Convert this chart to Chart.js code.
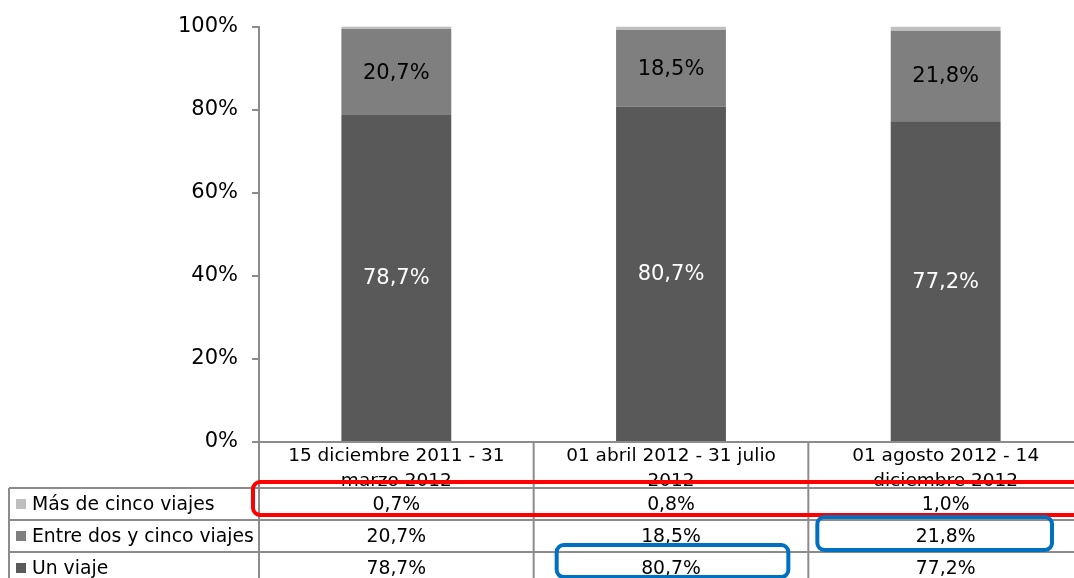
<!DOCTYPE html>
<html>
<head>
<meta charset="utf-8">
<script src="https://cdn.jsdelivr.net/npm/chart.js@4"></script>
<style>
  html, body { margin: 0; padding: 0; background: #fff; overflow: hidden; }
  canvas { display: block; }
</style>
</head>
<body>
<canvas id="myChart" width="1083" height="578"></canvas>
<script>
/* Data */
var periods = [
    ['15 diciembre 2011 - 31', 'marzo 2012'],
    ['01 abril 2012 - 31 julio', '2012'],
    ['01 agosto 2012 - 14', 'diciembre 2012']
];
var seriesNames = ['Un viaje', 'Entre dos y cinco viajes', 'Más de cinco viajes'];
var unViaje = [78.7, 80.7, 77.2];
var entreDosCinco = [20.7, 18.5, 21.8];
var masDeCinco = [0.7, 0.8, 1.0];
var yTicks = [0, 20, 40, 60, 80, 100];

var gray = '#8c8c8c';
var barColors = ['#595959', '#7f7f7f', '#bfbfbf'];
Chart.defaults.font.family = '"DejaVu Sans", Verdana, sans-serif';

function fmt(v) {
    return v.toFixed(1).replace('.', ',') + '%';
}

// marked cells in the table (series index, first / last period) + nudges
var highlights = [
    { series: 2, from: 0, to: 2, color: '#ff0000', l: -6, r: 20, t: -6, b: -5 },
    { series: 0, from: 1, to: 1, color: '#0070c0', l: 23, r: -20, t: -7, b: -7 },
    { series: 1, from: 2, to: 2, color: '#0070c0', l: 9, r: -31, t: -3, b: -2 }
];

var tablePlugin = {
    id: 'dataTable',
    afterDatasetsDraw: function (chart) {
        // value labels inside the two big segments
        var c = chart.ctx;
        c.save();
        c.font = '21px "DejaVu Sans"';
        c.textAlign = 'center';
        c.textBaseline = 'middle';
        [0, 1].forEach(function (i) {
            chart.getDatasetMeta(i).data.forEach(function (bar, j) {
                c.fillStyle = i === 0 ? '#ffffff' : '#000000';
                c.fillText(fmt(chart.data.datasets[i].data[j]), bar.x, (bar.y + bar.base) / 2 + 1);
            });
        });
        c.restore();
    },
    afterDraw: function (chart) {
        var c = chart.ctx, area = chart.chartArea, x = chart.scales.x;
        var n = periods.length, colW = (x.right - x.left) / n;
        var headTop = area.bottom, headH = 46, rowH = 32, tableLeft = 9;
        var rowsTop = headTop + headH;
        var order = [2, 1, 0]; // top row first
        var tableBottom = rowsTop + order.length * rowH;
        var rowTopOf = function (s) { return rowsTop + order.indexOf(s) * rowH; };

        c.save();
        c.strokeStyle = gray;
        c.lineWidth = 2;
        c.beginPath();
        for (var i = 0; i <= n; i++) {
            var vx = x.left + i * colW;
            c.moveTo(vx, headTop);
            c.lineTo(vx, tableBottom);
        }
        c.moveTo(tableLeft, rowsTop);
        c.lineTo(tableLeft, tableBottom);
        for (var k = 0; k <= order.length; k++) {
            c.moveTo(tableLeft, rowsTop + k * rowH);
            c.lineTo(x.right, rowsTop + k * rowH);
        }
        c.stroke();

        c.fillStyle = '#000';
        c.textBaseline = 'middle';
        c.textAlign = 'center';

        // header: period labels, clipped by the first row
        c.font = '18.5px "DejaVu Sans"';
        periods.forEach(function (lines, j) {
            var cx = x.getPixelForValue(j);
            c.save();
            c.beginPath();
            c.rect(x.left + j * colW, headTop, colW, headH - 1);
            c.clip();
            lines.forEach(function (t, li) {
                c.fillText(t, cx, headTop + 14 + li * 25);
            });
            c.restore();
        });

        // rows: legend key, name, values
        c.font = '18.8px "DejaVu Sans"';
        order.forEach(function (s, r) {
            var cy = rowsTop + r * rowH + rowH / 2;
            c.fillStyle = barColors[s];
            c.fillRect(16, cy - 5, 10, 10);
            c.fillStyle = '#000';
            c.textAlign = 'left';
            c.fillText(seriesNames[s], 32, cy + 1);
            c.textAlign = 'center';
            chart.data.datasets[s].data.forEach(function (v, j) {
                c.fillText(fmt(v), x.getPixelForValue(j), cy + 1);
            });
        });

        // highlight frames
        c.lineWidth = 4;
        highlights.forEach(function (h) {
            var top = rowTopOf(h.series);
            var left = x.left + h.from * colW + h.l;
            var right = x.left + (h.to + 1) * colW + h.r;
            c.strokeStyle = h.color;
            c.beginPath();
            c.roundRect(left, top + h.t, right - left, rowH + h.b - h.t, 7);
            c.stroke();
        });
        c.restore();
    }
};

var ctx = document.getElementById('myChart');
var myChart = new Chart(ctx, {
    type: 'bar',
    data: {
        labels: periods,
        datasets: [{
            label: seriesNames[0],
            data: unViaje,
            backgroundColor: barColors[0]
        }, {
            label: seriesNames[1],
            data: entreDosCinco,
            backgroundColor: barColors[1]
        }, {
            label: seriesNames[2],
            data: masDeCinco,
            backgroundColor: barColors[2]
        }]
    },
    options: {
        responsive: false,
        animation: false,
        categoryPercentage: 1,
        barPercentage: 0.4,
        layout: { padding: { top: 25, right: 0, bottom: 136, left: 0 } },
        plugins: { legend: { display: false }, tooltip: { enabled: false } },
        scales: {
            x: {
                stacked: true,
                grid: { display: false, drawTicks: false },
                ticks: { display: false },
                border: { display: true, color: gray, width: 2 }
            },
            y: {
                stacked: true,
                min: 0,
                max: 100,
                afterBuildTicks: function (s) { s.ticks = yTicks.map(function (v) { return { value: v }; }); },
                afterFit: function (s) { s.width = 259; },
                grid: { drawOnChartArea: false, drawTicks: true, tickLength: 7, color: gray, lineWidth: 2 },
                border: { display: true, color: gray, width: 2 },
                ticks: {
                    padding: 14,
                    color: '#000',
                    font: { size: 21 },
                    callback: function (v) { return v + '%'; }
                }
            }
        }
    },
    plugins: [tablePlugin]
});
</script>
</body>
</html>
